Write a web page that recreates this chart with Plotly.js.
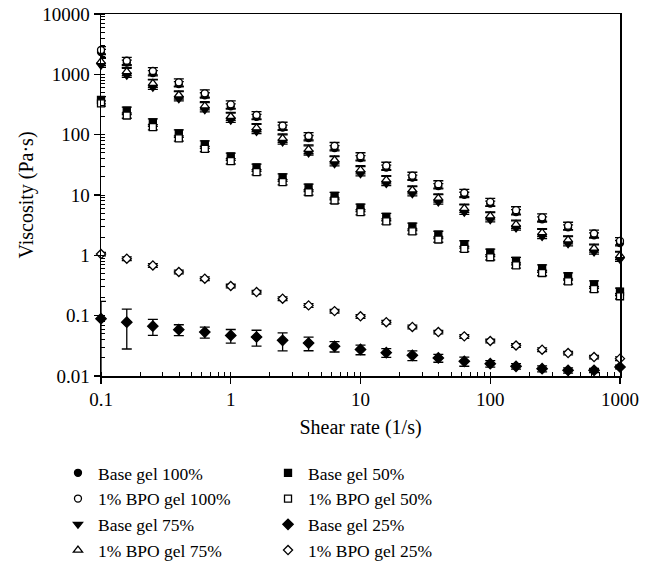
<!DOCTYPE html>
<html>
<head>
<meta charset="utf-8">
<script src="https://cdn.plot.ly/plotly-3.0.1.min.js"></script>
<style>html,body{margin:0;padding:0;background:#fff;}#chart{width:651px;height:565px;}</style>
</head>
<body>
<div id="chart"></div>
<script>
var shearRate = [0.1,0.158,0.251,0.398,0.631,1,1.58,2.51,3.98,6.31,10,15.8,25.1,39.8,63.1,100,158,251,398,631,1000];

var base100 = [2350,1560,1050,690,450,295,197,131,88,60,41,28.5,19.4,14,10.1,7.2,5.2,3.95,2.9,2.15,1.6];
var bpo100  = [2530,1680,1135,738,485,318,212,141,95,65,44,30.6,20.9,15.1,10.9,7.7,5.6,4.27,3.1,2.3,1.73];
var base75  = [1420,965,610,395,260,174,113,76,50,33,22.6,15.5,10.5,7.7,5.2,3.9,2.85,2.06,1.56,1.14,0.86];
var bpo75   = [1620,1107,708,454,299,200,130,87,57,38,26,17.8,12.1,8.9,6.0,4.5,3.27,2.37,1.8,1.31,0.99];
var base50  = [376,250,160,105,69,43.5,28.6,19.6,13.3,9.7,6.2,4.35,3.0,2.2,1.53,1.11,0.81,0.61,0.45,0.33,0.25];
var bpo50   = [331,208,133,87,58,36.3,23.9,16.4,11.1,8.1,5.2,3.65,2.5,1.83,1.28,0.93,0.68,0.51,0.37,0.276,0.21];
var base25  = [0.089,0.078,0.067,0.0587,0.0535,0.047,0.0443,0.039,0.0352,0.031,0.0275,0.0244,0.022,0.0199,0.0175,0.016,0.0145,0.0132,0.0124,0.0124,0.0141];
var bpo25   = [1.05,0.88,0.68,0.53,0.41,0.31,0.246,0.191,0.148,0.119,0.0975,0.078,0.065,0.0535,0.0454,0.038,0.032,0.0273,0.024,0.0206,0.0194];

var errBase25 = [0.084,0.05,0.02,0.012,0.011,0.012,0.013,0.013,0.009,0.006,0.005,0.004,0.004,0.003,0.003,0.002,0.0015,0.0015,0.0012,0.001,0.001];

var xTickVals = [0.1,1,10,100,1000];
var xTickText = ['0.1','1','10','100','1000'];
var yTickVals = [0.01,0.1,1,10,100,1000,10000];
var yTickText = ['0.01','0.1','1','10','100','1000','10000'];

var FONT = '"Liberation Serif", "Times New Roman", serif';

function pctErr(vals, p){ return vals.map(function(v){ return v*p; }); }

function trace(name, y, symbol, filled, size, legendId, errPlus, errMinus){
  return {
    type:'scatter', mode:'markers', name:name, x:shearRate, y:y, legend:legendId,
    marker:{symbol:symbol, size:size, color: filled ? '#000' : '#fff', line:{color:'#000', width:1.3}},
    error_y:{type:'data', symmetric:false, array:errPlus, arrayminus:errMinus || errPlus, visible:true, color:'#000', thickness:1.3, width:5},
    cliponaxis:false
  };
}

var data = [
  trace('Base gel 100%', base100, 'circle', true, 7, 'legend', pctErr(base100,0.1)),
  trace('1% BPO gel 100%', bpo100, 'circle', false, 7, 'legend', pctErr(bpo100,0.14)),
  trace('Base gel 75%', base75, 'triangle-down', true, 8, 'legend', pctErr(base75,0.35), pctErr(base75,0.08)),
  trace('1% BPO gel 75%', bpo75, 'triangle-up', false, 8, 'legend', pctErr(bpo75,0.14)),
  trace('Base gel 50%', base50, 'square', true, 7, 'legend2', pctErr(base50,0.14)),
  trace('1% BPO gel 50%', bpo50, 'square', false, 7, 'legend2', pctErr(bpo50,0.1)),
  trace('Base gel 25%', base25, 'diamond', true, 8, 'legend2', errBase25),
  trace('1% BPO gel 25%', bpo25, 'diamond', false, 7, 'legend2', pctErr(bpo25,0.07))
];

var legendFont = {family:FONT, size:17.5, color:'#000'};

var layout = {
  width:651, height:565,
  margin:{l:101, r:31, t:14, b:189, autoexpand:false},
  paper_bgcolor:'#fff', plot_bgcolor:'#fff',
  font:{family:FONT, size:17, color:'#000'},
  showlegend:true,
  legend:{orientation:'v', x:-0.0829, xanchor:'left', y:-0.218, yanchor:'top',
          font:legendFont, tracegroupgap:0, itemclick:false, bgcolor:'rgba(0,0,0,0)'},
  legend2:{orientation:'v', x:0.3218, xanchor:'left', y:-0.218, yanchor:'top',
          font:legendFont, tracegroupgap:0, itemclick:false, bgcolor:'rgba(0,0,0,0)'},
  xaxis:{type:'log', range:[-1,3], showline:true, linecolor:'#000', linewidth:1.5, mirror:true,
         showgrid:false, zeroline:false, tickmode:'array', tickvals:xTickVals, ticktext:xTickText,
         ticks:'outside', ticklen:6, tickwidth:1.3, tickcolor:'#000', automargin:false,
         minor:{dtick:'D1', ticks:'inside', ticklen:4, tickwidth:1, tickcolor:'#000', showgrid:false},
         tickfont:{family:FONT, size:19},
         title:{text:'Shear rate (1/s)', font:{family:FONT, size:20}, standoff:10}},
  yaxis:{type:'log', range:[-2,4], showline:true, linecolor:'#000', linewidth:1.5, mirror:true,
         showgrid:false, zeroline:false, tickmode:'array', tickvals:yTickVals, ticktext:yTickText,
         ticks:'outside', ticklen:6, tickwidth:1.3, tickcolor:'#000', automargin:false,
         minor:{dtick:'D1', ticks:'inside', ticklen:4, tickwidth:1, tickcolor:'#000', showgrid:false},
         tickfont:{family:FONT, size:19},
         title:{text:'Viscosity (Pa·s)', font:{family:FONT, size:20}, standoff:3}}
};

Plotly.newPlot('chart', data, layout, {displayModeBar:false, staticPlot:true});
</script>
</body>
</html>
